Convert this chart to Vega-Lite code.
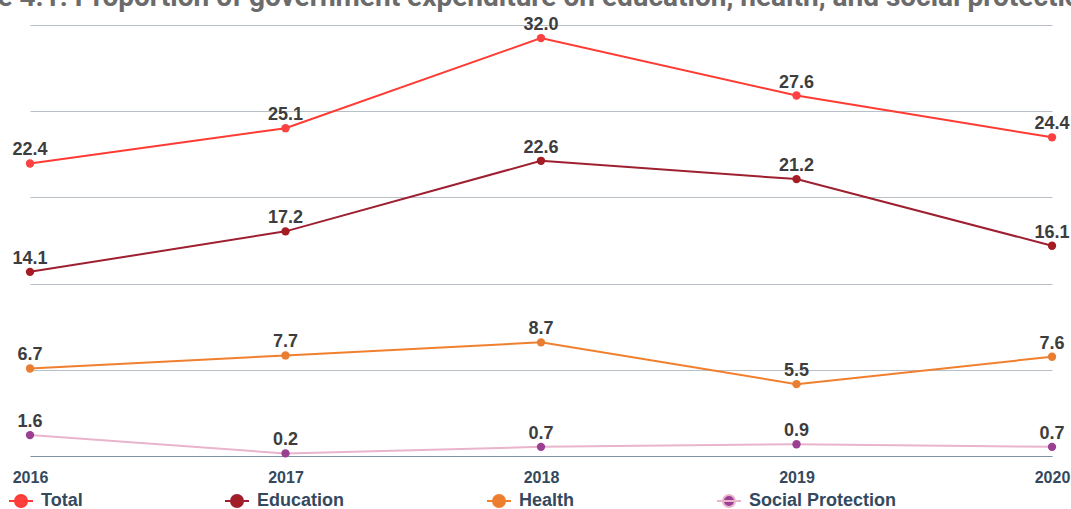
{
  "$schema": "https://vega.github.io/schema/vega-lite/v6.json",
  "autosize": {"type": "none"},
  "padding": {"left": 30, "top": 25, "right": 19, "bottom": 53},
  "width": 1022,
  "height": 431,
  "background": "white",
  "config": {"view": {"stroke": null}},
  "title": {
    "text": "Figure 4.1: Proportion of government expenditure on education, health, and social protection",
    "anchor": "start",
    "dx": -75,
    "dy": 6,
    "offset": 10,
    "font": "Roboto",
    "fontSize": 28,
    "fontWeight": "bold",
    "color": "#6b6b6b"
  },
  "data": {
    "values": [
      {"year": "2016", "series": "Total", "value": 22.4},
      {"year": "2017", "series": "Total", "value": 25.1},
      {"year": "2018", "series": "Total", "value": 32.0},
      {"year": "2019", "series": "Total", "value": 27.6},
      {"year": "2020", "series": "Total", "value": 24.4},
      {"year": "2016", "series": "Education", "value": 14.1},
      {"year": "2017", "series": "Education", "value": 17.2},
      {"year": "2018", "series": "Education", "value": 22.6},
      {"year": "2019", "series": "Education", "value": 21.2},
      {"year": "2020", "series": "Education", "value": 16.1},
      {"year": "2016", "series": "Health", "value": 6.7},
      {"year": "2017", "series": "Health", "value": 7.7},
      {"year": "2018", "series": "Health", "value": 8.7},
      {"year": "2019", "series": "Health", "value": 5.5},
      {"year": "2020", "series": "Health", "value": 7.6},
      {"year": "2016", "series": "Social Protection", "value": 1.6},
      {"year": "2017", "series": "Social Protection", "value": 0.2},
      {"year": "2018", "series": "Social Protection", "value": 0.7},
      {"year": "2019", "series": "Social Protection", "value": 0.9},
      {"year": "2020", "series": "Social Protection", "value": 0.7}
    ]
  },
  "encoding": {
    "x": {
      "field": "year",
      "type": "ordinal",
      "scale": {"type": "point", "padding": 0},
      "axis": {
        "title": null,
        "labelAngle": 0,
        "ticks": false,
        "labelPadding": 13,
        "labelFont": "Liberation Sans",
        "labelFontSize": 16,
        "labelFontWeight": "bold",
        "labelColor": "#34495e",
        "domainColor": "#7f93a3",
        "domainWidth": 1,
        "grid": false
      }
    },
    "y": {
      "field": "value",
      "type": "quantitative",
      "scale": {"domain": [0, 33], "nice": false},
      "axis": {
        "title": null,
        "labels": false,
        "ticks": false,
        "domain": false,
        "values": [6.6, 13.2, 19.8, 26.4, 33],
        "grid": true,
        "gridColor": "#b8bfc6",
        "gridWidth": 1
      }
    }
  },
  "layer": [
    {
      "mark": {"type": "line", "strokeWidth": 2},
      "encoding": {
        "stroke": {
          "field": "series",
          "type": "nominal",
          "scale": {
            "domain": ["Total", "Education", "Health", "Social Protection"],
            "range": ["#ff3b33", "#9e2030", "#f07f2e", "#e9b4cc"]
          },
          "legend": {
            "title": null,
            "orient": "none",
            "legendX": -22,
            "legendY": 463,
            "direction": "horizontal",
            "columns": 4,
            "gridAlign": "none",
            "columnPadding": 138,
            "symbolType": "M-1,0L1,0M-0.5,0A0.5,0.5,0,1,0,0.5,0A0.5,0.5,0,1,0,-0.5,0Z",
            "symbolSize": 576,
            "symbolStrokeWidth": 2,
            "symbolOpacity": 1,
            "labelFont": "Liberation Sans",
            "labelFontSize": 18,
            "labelFontWeight": "bold",
            "labelColor": "#34495e",
            "labelOffset": 7,
            "labelLimit": 300
          }
        }
      }
    },
    {
      "mark": {"type": "point", "filled": true, "opacity": 1, "size": 70},
      "encoding": {
        "color": {
          "field": "series",
          "type": "nominal",
          "scale": {
            "domain": ["Total", "Education", "Health", "Social Protection"],
            "range": ["#fb4141", "#a51c22", "#e97d31", "#9b3f92"]
          },
          "legend": {
            "title": null,
            "orient": "none",
            "legendX": -22,
            "legendY": 463,
            "direction": "horizontal",
            "columns": 4,
            "gridAlign": "none",
            "columnPadding": 138,
            "symbolType": "M-1,0L1,0M-0.5,0A0.5,0.5,0,1,0,0.5,0A0.5,0.5,0,1,0,-0.5,0Z",
            "symbolSize": 576,
            "symbolStrokeWidth": 2,
            "symbolOpacity": 1,
            "labelFont": "Liberation Sans",
            "labelFontSize": 18,
            "labelFontWeight": "bold",
            "labelColor": "#34495e",
            "labelOffset": 7,
            "labelLimit": 300
          }
        }
      }
    },
    {
      "mark": {
        "type": "text",
        "dy": -8,
        "baseline": "alphabetic",
        "font": "Liberation Sans",
        "fontSize": 18,
        "fontWeight": "bold",
        "color": "#3d3d3d"
      },
      "encoding": {
        "text": {"field": "value", "type": "quantitative", "format": ".1f"}
      }
    }
  ]
}
